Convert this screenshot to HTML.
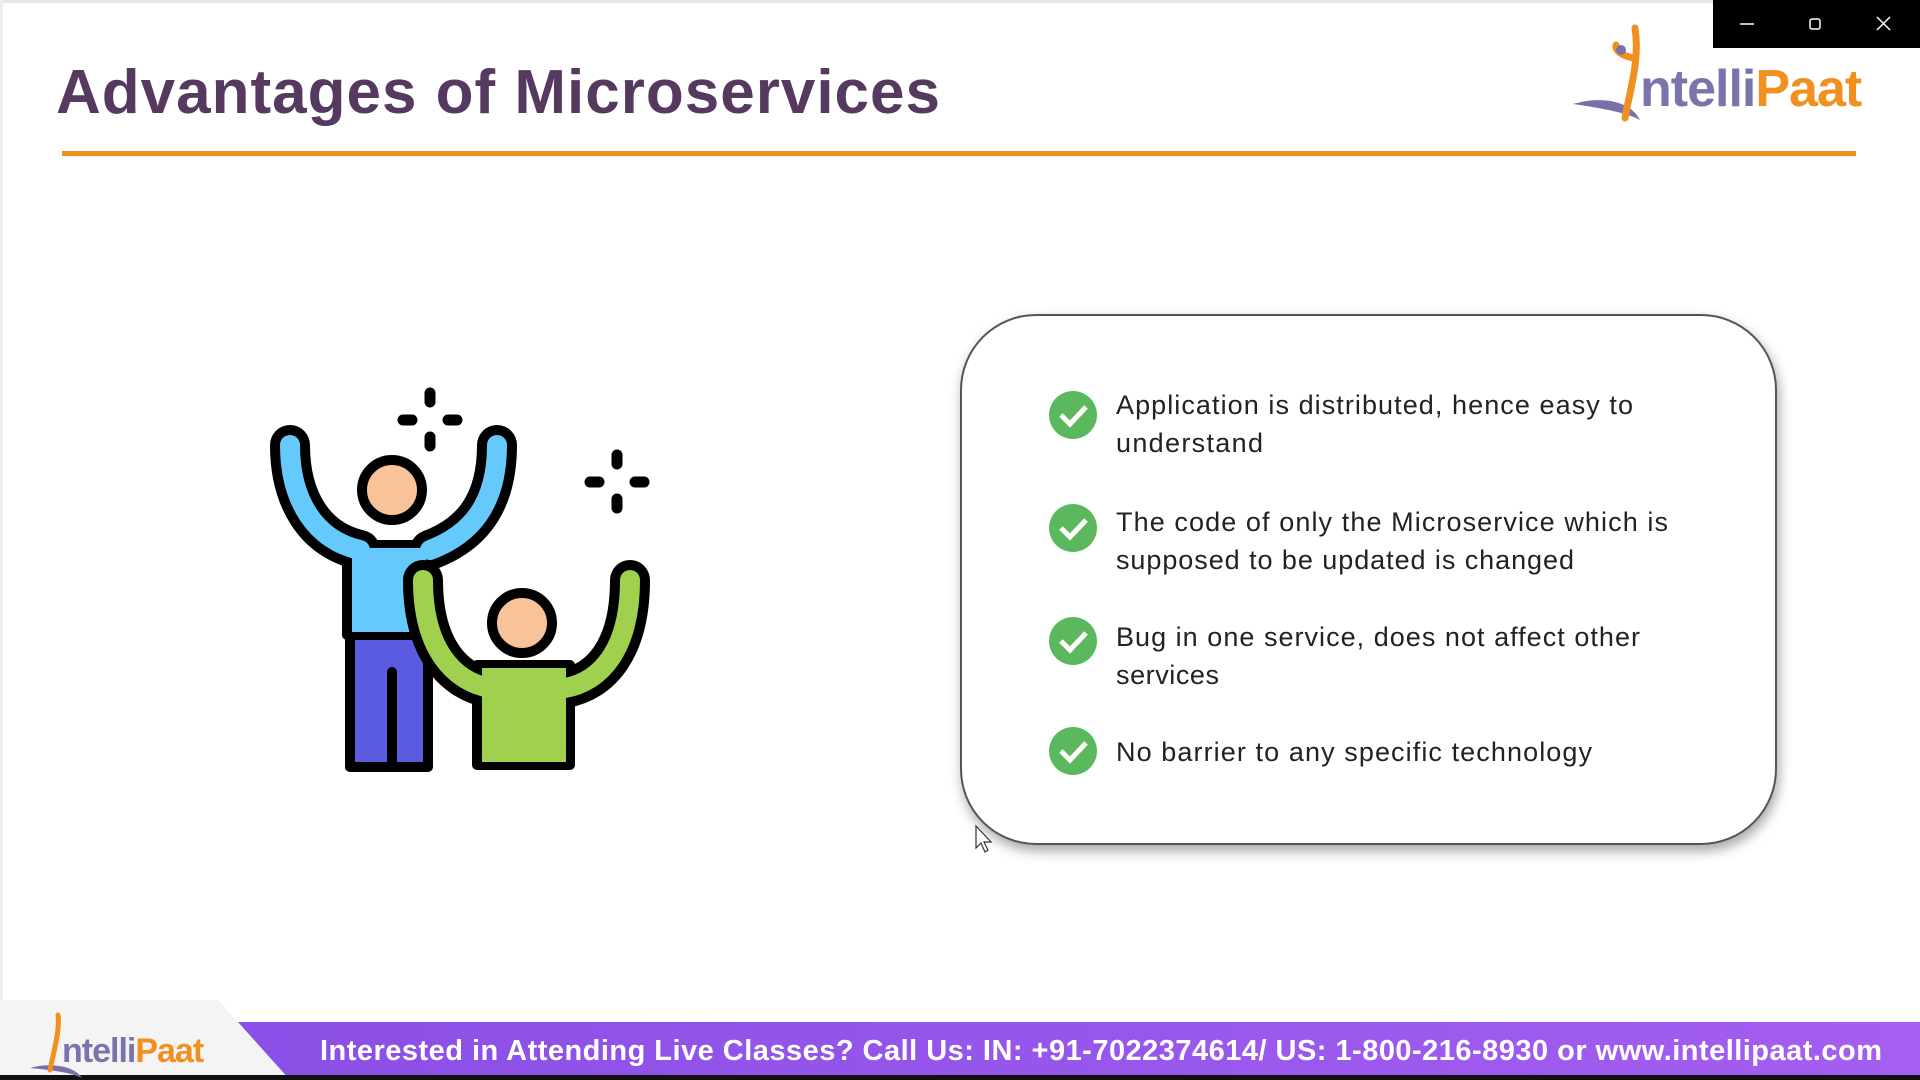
<!DOCTYPE html>
<html><head><meta charset="utf-8"><style>
html,body{margin:0;padding:0;background:#fff;}
svg{display:block;}
</style></head><body>
<svg width="1920" height="1080" viewBox="0 0 1920 1080" xmlns="http://www.w3.org/2000/svg" font-family="Liberation Sans, sans-serif">
<defs>
<filter id="sh" x="-10%" y="-10%" width="120%" height="125%"><feDropShadow dx="2" dy="6" stdDeviation="6" flood-color="#000" flood-opacity="0.35"/></filter>
<linearGradient id="bg" x1="0" x2="1"><stop offset="0" stop-color="#8a4fe6"/><stop offset="1" stop-color="#a45ef0"/></linearGradient>
</defs>
<rect x="0" y="0" width="1920" height="1080" fill="#fff"/>
<rect x="0" y="0" width="1920" height="3" fill="#e6e6e6"/>
<rect x="0" y="0" width="3" height="1080" fill="#eee"/>
<g>
<rect x="1713" y="0" width="207" height="48" fill="#000"/>
<line x1="1740" y1="24" x2="1754" y2="24" stroke="#fff" stroke-width="1.5"/>
<rect x="1810" y="19" width="10" height="10" fill="none" stroke="#fff" stroke-width="1.5" rx="2"/>
<path d="M1877,17 L1890,30 M1890,17 L1877,30" stroke="#fff" stroke-width="1.5"/>
</g>
<text x="56" y="113" font-size="62" font-weight="bold" fill="#55395f" textLength="884">Advantages of Microservices</text>
<rect x="62" y="151" width="1794" height="5" fill="#f0901e"/>
<g>
<path d="M1573,104 C1600,96 1630,100 1640,120 C1625,112 1600,108 1573,104Z" fill="#7a6fa8"/>
<path d="M1625,118 C1630,90 1640,60 1635,28 M1633,58 C1620,55 1615,50 1616,45" stroke="#f0901e" stroke-width="7" fill="none" stroke-linecap="round"/>
<circle cx="1621" cy="50" r="5" fill="#7a6fa8"/>
<text x="1640" y="106" font-size="52" font-weight="bold" fill="#7a74ad" letter-spacing="-1">ntelli<tspan fill="#f0901e">Paat</tspan></text>
</g>
<g stroke-linecap="round" stroke-linejoin="round">
<rect x="350" y="632" width="78" height="135" fill="#5b5be0" stroke="#000" stroke-width="10"/>
<line x1="392" y1="672" x2="392" y2="765" stroke="#000" stroke-width="10"/>
<path d="M290,445 C290,500 315,540 360,550" fill="none" stroke="#000" stroke-width="40"/>
<path d="M497,445 C497,505 470,535 430,550" fill="none" stroke="#000" stroke-width="40"/>
<rect x="347" y="545" width="83" height="90" fill="#66c9fb" stroke="#000" stroke-width="10"/>
<path d="M290,445 C290,500 315,540 360,550" fill="none" stroke="#66c9fb" stroke-width="20"/>
<path d="M497,445 C497,505 470,535 430,550" fill="none" stroke="#66c9fb" stroke-width="20"/>
<rect x="352" y="548" width="74" height="84" fill="#66c9fb"/>
<circle cx="392" cy="490" r="30" fill="#f9c39a" stroke="#000" stroke-width="10"/>
<path d="M423,580 C423,650 455,682 490,688" fill="none" stroke="#000" stroke-width="40"/>
<path d="M630,580 C630,650 600,682 565,688" fill="none" stroke="#000" stroke-width="40"/>
<rect x="477" y="665" width="93" height="100" fill="#9fd14f" stroke="#000" stroke-width="10"/>
<path d="M423,580 C423,650 455,682 490,688" fill="none" stroke="#9fd14f" stroke-width="20"/>
<path d="M630,580 C630,650 600,682 565,688" fill="none" stroke="#9fd14f" stroke-width="20"/>
<rect x="482" y="668" width="84" height="94" fill="#9fd14f"/>
<circle cx="522" cy="623" r="30" fill="#f9c39a" stroke="#000" stroke-width="10"/>
<g stroke="#000" stroke-width="11">
<line x1="430" y1="393" x2="430" y2="402"/><line x1="430" y1="437" x2="430" y2="446"/>
<line x1="403" y1="420" x2="412" y2="420"/><line x1="448" y1="420" x2="457" y2="420"/>
<line x1="617" y1="455" x2="617" y2="464"/><line x1="617" y1="499" x2="617" y2="508"/>
<line x1="590" y1="482" x2="599" y2="482"/><line x1="635" y1="482" x2="644" y2="482"/>
</g>
</g>
<rect x="961" y="315" width="815" height="529" rx="75" fill="#fff" stroke="#555" stroke-width="2" filter="url(#sh)"/>
<g font-size="27" fill="#222">
<g>
<circle cx="1073" cy="415" r="24" fill="#5cb85c"/><path d="M1061,415 L1070,424 L1086,407" stroke="#fff" stroke-width="5" fill="none"/>
<text x="1116" y="414" textLength="517">Application is distributed, hence easy to</text><text x="1116" y="452" textLength="147">understand</text></g>
<g>
<circle cx="1073" cy="528" r="24" fill="#5cb85c"/><path d="M1061,528 L1070,537 L1086,520" stroke="#fff" stroke-width="5" fill="none"/>
<text x="1116" y="531" textLength="552">The code of only the Microservice which is</text><text x="1116" y="569" textLength="458">supposed to be updated is changed</text></g>
<g>
<circle cx="1073" cy="641" r="24" fill="#5cb85c"/><path d="M1061,641 L1070,650 L1086,633" stroke="#fff" stroke-width="5" fill="none"/>
<text x="1116" y="646" textLength="524">Bug in one service, does not affect other</text><text x="1116" y="684" textLength="103">services</text></g>
<g>
<circle cx="1073" cy="751" r="24" fill="#5cb85c"/><path d="M1061,751 L1070,760 L1086,743" stroke="#fff" stroke-width="5" fill="none"/>
<text x="1116" y="761" textLength="476">No barrier to any specific technology</text></g>
</g>
<path d="M976,826 L976,848 L981,843 L985,852 L988,850 L984,842 L991,842 Z" fill="#fff" stroke="#333" stroke-width="1.2"/>
<g>
<path d="M0,1000 L218,1000 L290,1080 L0,1080Z" fill="#f4f4f4"/>
<path d="M238,1022 L1920,1022 L1920,1080 L290,1080Z" fill="url(#bg)"/>
<rect x="0" y="1075" width="1920" height="5" fill="#111"/>
<g>
<path d="M30,1068 C50,1062 75,1066 82,1078 C70,1072 50,1070 30,1068Z" fill="#7a6fa8"/>
<path d="M50,1070 C54,1050 60,1030 58,1015" stroke="#f0901e" stroke-width="5" fill="none" stroke-linecap="round"/>
<text x="62" y="1062" font-size="34" font-weight="bold" fill="#7a74ad" letter-spacing="-1">ntelli<tspan fill="#f0901e">Paat</tspan></text>
</g>
<text x="320" y="1060" font-size="29" font-weight="bold" fill="#fff" textLength="1562">Interested in Attending Live Classes? Call Us: IN: +91-7022374614/ US: 1-800-216-8930 or www.intellipaat.com</text>
</g>
</svg>
</body></html>
